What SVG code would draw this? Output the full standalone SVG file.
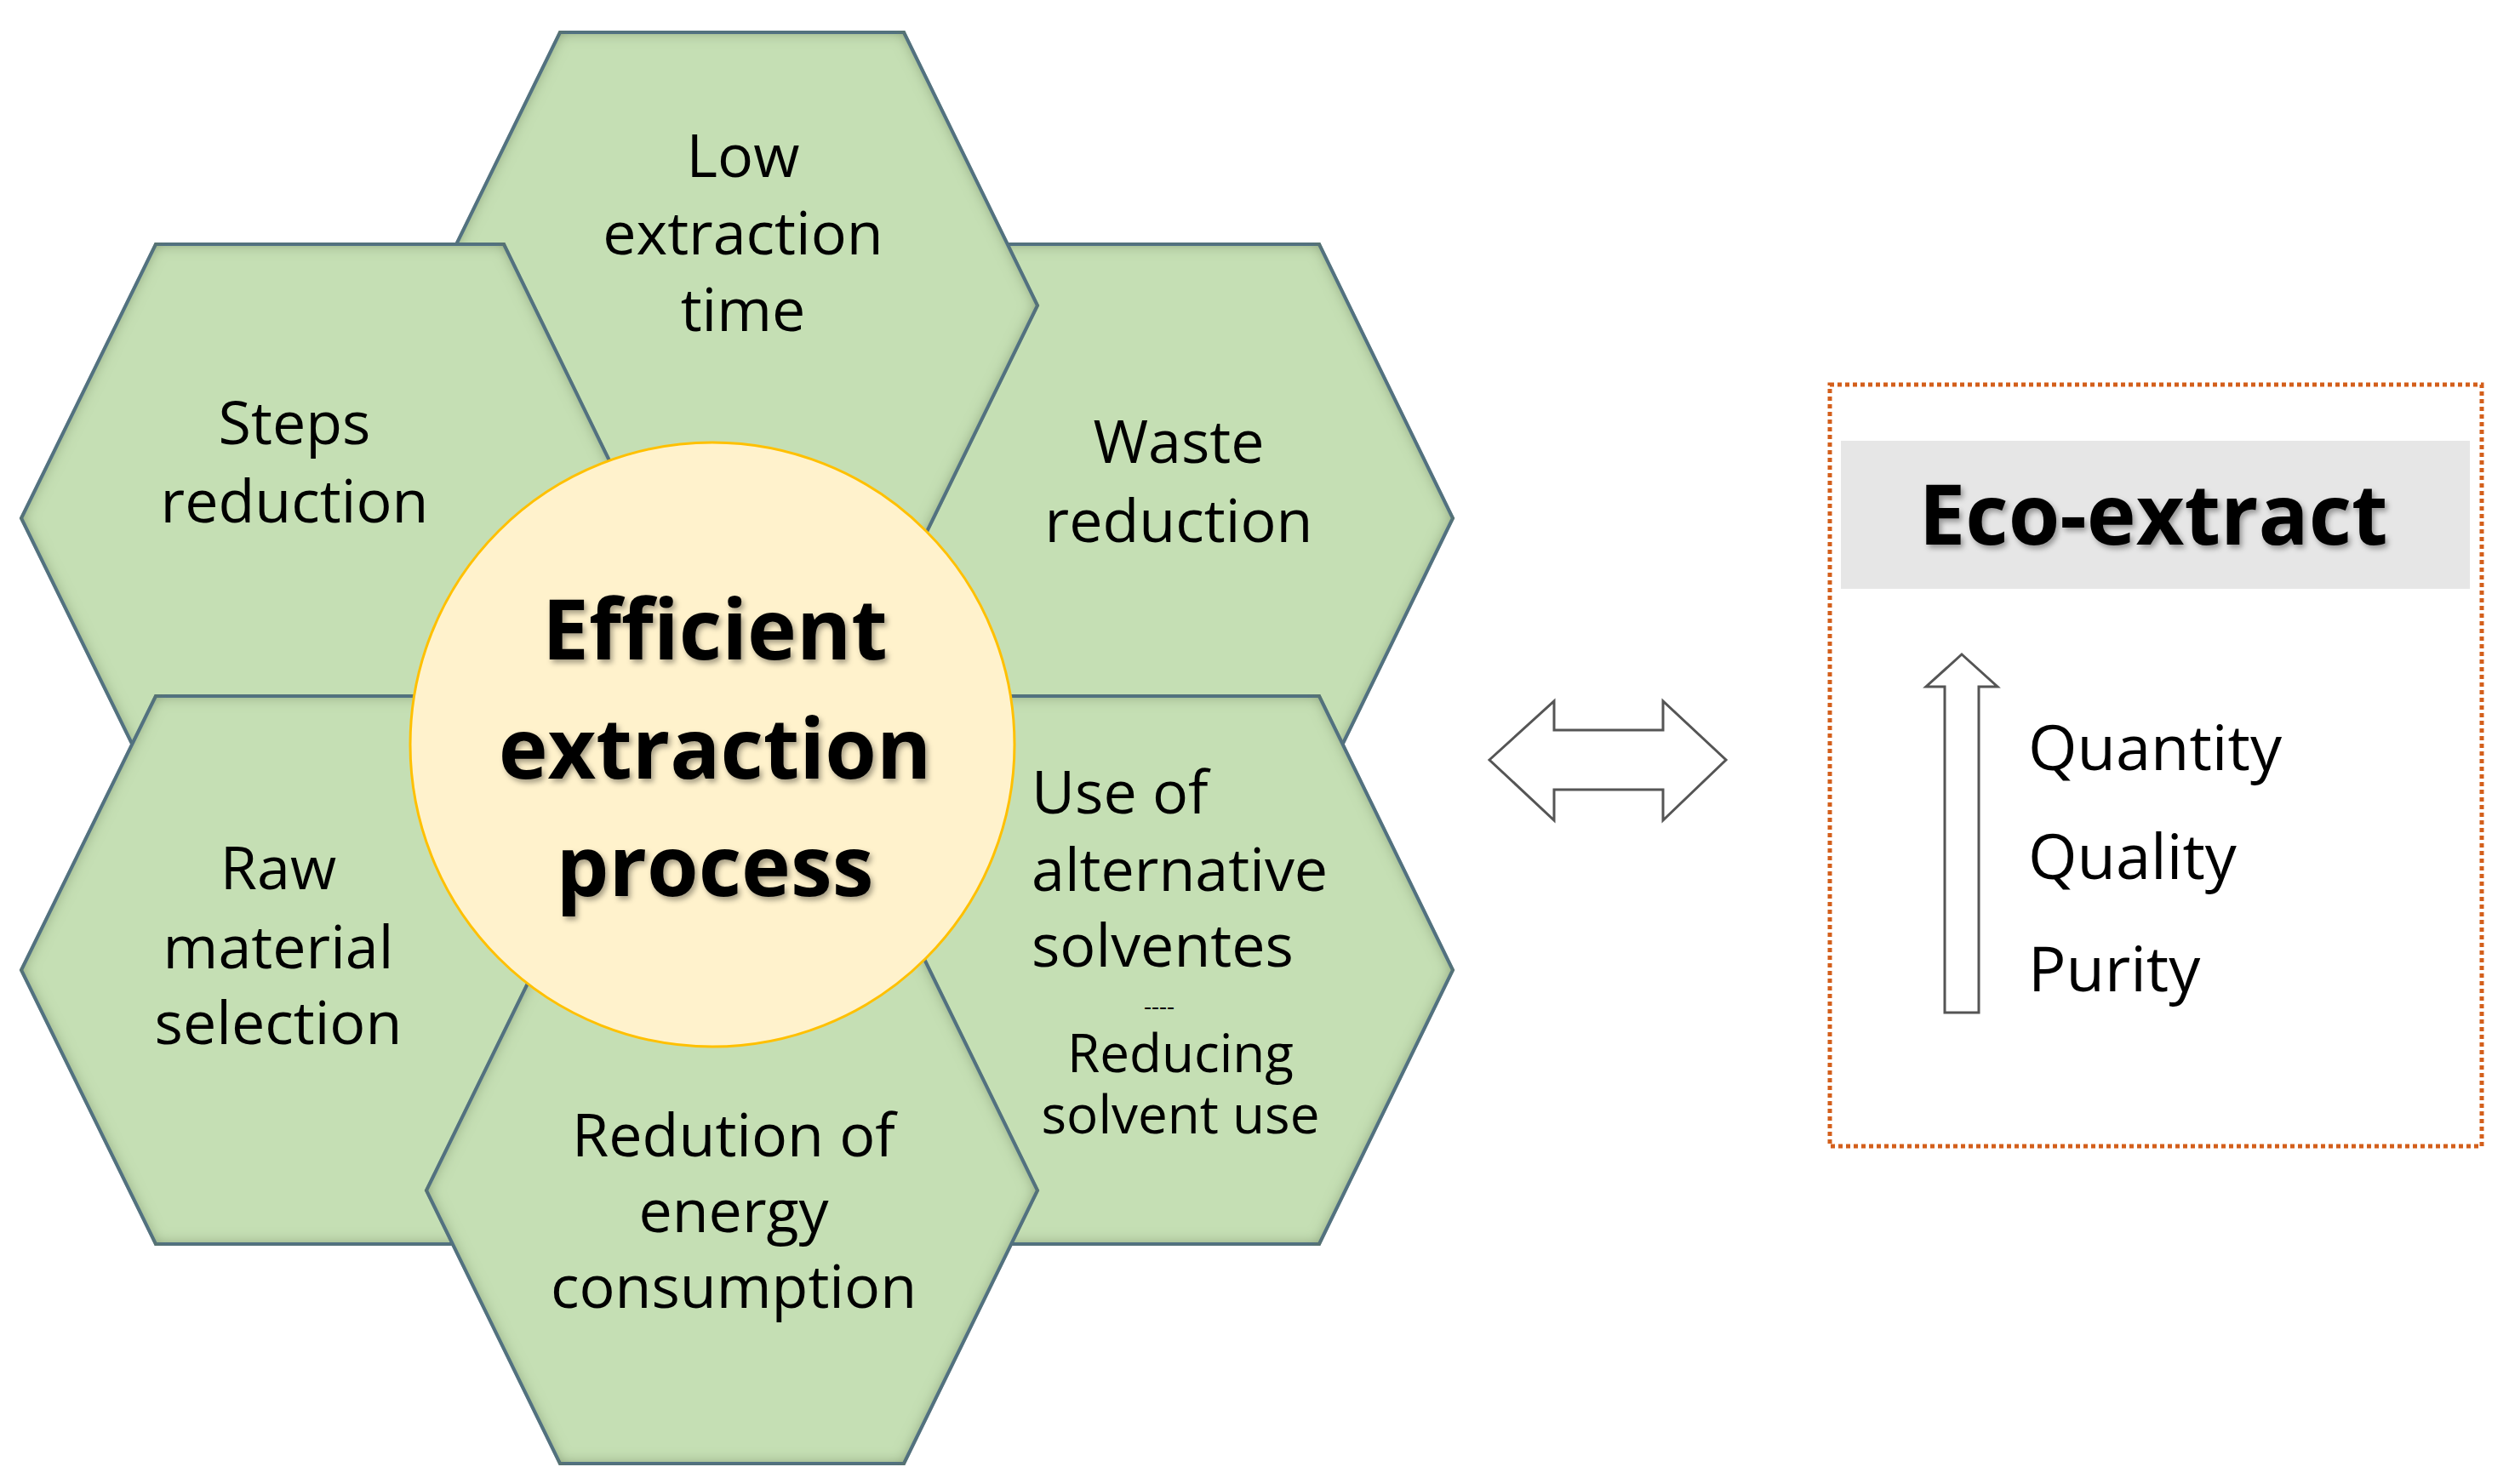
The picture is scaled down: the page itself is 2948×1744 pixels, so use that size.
<svg xmlns="http://www.w3.org/2000/svg" width="2948" height="1744" viewBox="0 0 2948 1744">
<defs>
<filter id="inset" x="-5%" y="-5%" width="110%" height="110%">
<feFlood flood-color="#5f7548"/>
<feComposite in2="SourceAlpha" operator="out"/>
<feGaussianBlur stdDeviation="9"/>
<feComposite in2="SourceAlpha" operator="in" result="sh"/>
<feMerge><feMergeNode in="SourceGraphic"/><feMergeNode in="sh"/></feMerge>
</filter>
<filter id="tsh" x="-10%" y="-10%" width="120%" height="130%">
<feDropShadow dx="3" dy="4" stdDeviation="3" flood-color="#000" flood-opacity="0.35"/>
</filter>
</defs>
<style>
.hex{fill:#c5dfb4;stroke:#4a6f99;stroke-width:4}
.t{font-family:"Open Sans","Liberation Sans",sans-serif;font-size:70px;fill:#000;text-anchor:middle}
.l{text-anchor:start}
.s{font-size:62px}
.d{font-size:28px}
.c{font-family:"Open Sans","Liberation Sans",sans-serif;font-size:98px;font-weight:bold;fill:#000;text-anchor:middle}
.q{font-family:"Open Sans","Liberation Sans",sans-serif;font-size:74px;fill:#000}
</style>
<rect width="2948" height="1744" fill="#fff"/>
<g id="waste"><polygon class="hex" filter="url(#inset)" points="1142,287 1550,287 1707,609 1550,931 1142,931 984,609"/>
<text class="t" x="1385" y="544">Waste</text><text class="t" x="1385" y="637">reduction</text></g>
<g id="low"><polygon class="hex" filter="url(#inset)" points="658,38 1062,38 1219,359 1062,680 658,680 501,359"/>
<text class="t" x="873" y="208">Low</text><text class="t" x="873" y="299">extraction</text><text class="t" x="873" y="389">time</text></g>
<g id="steps"><polygon class="hex" filter="url(#inset)" points="183,287 592,287 749,609 592,931 183,931 25,609"/>
<text class="t" x="346" y="522">Steps</text><text class="t" x="346" y="614">reduction</text></g>
<g id="raw"><polygon class="hex" filter="url(#inset)" points="183,818 592,818 749,1140 592,1462 183,1462 25,1140"/>
<text class="t" x="327" y="1045">Raw</text><text class="t" x="327" y="1138">material</text><text class="t" x="327" y="1227">selection</text></g>
<g id="use"><polygon class="hex" filter="url(#inset)" points="1142,818 1550,818 1707,1140 1550,1462 1142,1462 984,1140"/>
<text class="t l" x="1212" y="956">Use of</text><text class="t l" x="1212" y="1047">alternative</text><text class="t l" x="1212" y="1136">solventes</text>
<text class="t d" x="1362" y="1192">----</text>
<text class="t s" x="1387" y="1260">Reducing</text><text class="t s" x="1387" y="1332">solvent use</text></g>
<g id="redution"><polygon class="hex" filter="url(#inset)" points="658,1078 1062,1078 1219,1399 1062,1720 658,1720 501,1399"/>
<text class="t" x="862" y="1359">Redution of</text><text class="t" x="862" y="1448">energy</text><text class="t" x="862" y="1537">consumption</text></g>
<g id="center"><circle cx="837" cy="875" r="355" fill="#fff2cc" stroke="#ffc000" stroke-width="3"/>
<g filter="url(#tsh)"><text class="c" x="840" y="775">Efficient</text><text class="c" x="840" y="915">extraction</text><text class="c" x="840" y="1053">process</text></g></g>
<g id="connectors">
<polygon points="1750,893 1826,824 1826,858 1954,858 1954,824 2028,893 1954,964 1954,928 1826,928 1826,964" fill="#fff" stroke="#555" stroke-width="3"/>
</g>
<g id="eco">
<rect x="2150" y="452" width="766" height="895" fill="#fff" stroke="#d35f1b" stroke-width="5" stroke-dasharray="5,4"/>
<rect x="2163" y="518" width="739" height="174" fill="#e6e6e6"/>
<text class="c" x="2530" y="640" filter="url(#tsh)">Eco-extract</text>
<polygon points="2305,769 2347,807 2325,807 2325,1190 2285,1190 2285,807 2263,807" fill="#fff" stroke="#555" stroke-width="3"/>
<text class="q" x="2383" y="905">Quantity</text><text class="q" x="2383" y="1033">Quality</text><text class="q" x="2383" y="1165">Purity</text>
</g>
</svg>
